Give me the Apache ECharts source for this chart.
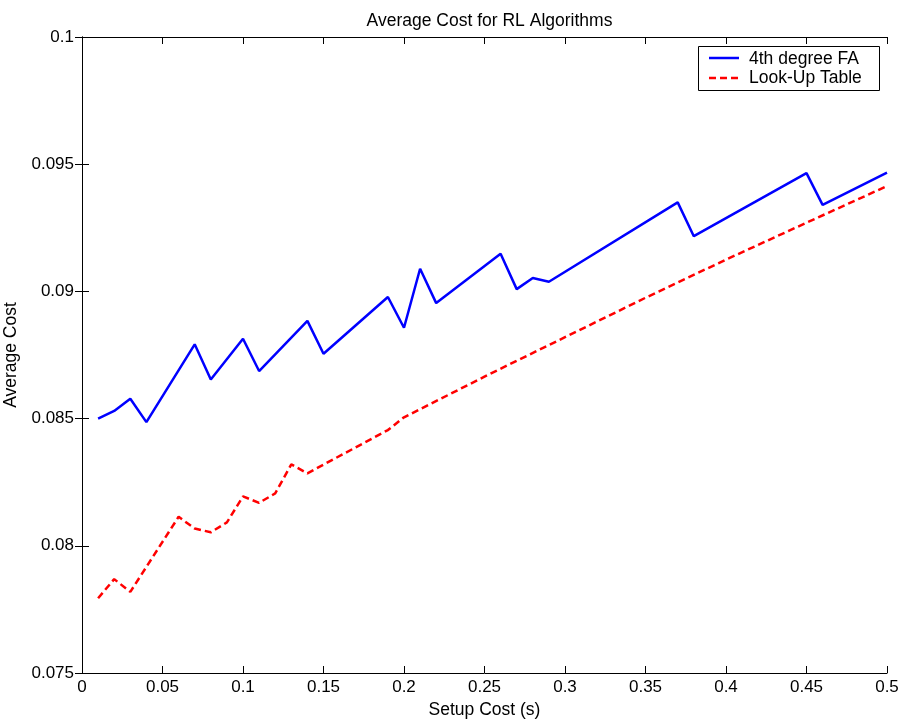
<!DOCTYPE html>
<html>
<head>
<meta charset="utf-8">
<script src="https://cdn.jsdelivr.net/npm/echarts@6/dist/echarts.min.js"></script>
<style>html,body{margin:0;padding:0;background:#fff;}#c{width:904px;height:722px;}</style>
</head>
<body>
<div id="c"></div>
<script>
const titleText = 'Average Cost for RL Algorithms';
const xName = 'Setup Cost (s)';
const yName = 'Average Cost';
const seriesNames = ['4th degree FA', 'Look-Up Table'];

const faX = [0.01,0.02,0.03,0.04,0.07,0.08,0.10,0.11,0.14,0.15,0.19,0.20,0.21,0.22,0.26,0.27,0.28,0.29,0.37,0.38,0.45,0.46,0.50];
const faY = [0.0850,0.0853,0.08578,0.08486,0.08792,0.08654,0.08814,0.08687,0.08884,0.08755,0.08978,0.08857,0.09089,0.08954,0.09148,0.09009,0.09053,0.09038,0.09350,0.09217,0.09465,0.09340,0.09467];

const lutX = [0.01,0.02,0.03,0.06,0.07,0.08,0.09,0.10,0.11,0.12,0.13,0.14,0.19,0.20,0.25,0.30,0.35,0.40,0.45,0.50];
const lutY = [0.07794,0.07869,0.07819,0.08114,0.08068,0.08053,0.08092,0.08194,0.08169,0.08206,0.08320,0.08285,0.08455,0.08505,0.08665,0.0882,0.08975,0.09125,0.0927,0.09414];

const xMin = 0, xMax = 0.5, xStep = 0.05;
const yMin = 0.075, yMax = 0.1, yStep = 0.005;

const colors = ['#0000ff', '#ff0000'];
const zip = (a, b) => a.map((v, i) => [v, b[i]]);
const font = '"Liberation Sans", Arial, Helvetica, sans-serif';
const fmt = v => String(+v.toFixed(4));

const axisLine = {show: true, lineStyle: {color: '#000', width: 1}};
const tick = {show: true, inside: true, length: 7, lineStyle: {color: '#000', width: 1}};

const chart = echarts.init(document.getElementById('c'), null, {renderer: 'canvas'});
chart.setOption({
  backgroundColor: '#fff',
  animation: false,
  textStyle: {fontFamily: font},
  title: {
    text: titleText, left: 484.5, textAlign: 'center', top: 7,
    textStyle: {fontSize: 17.5, fontWeight: 'normal', color: '#000', fontFamily: font}
  },
  grid: {left: 82, right: 17, top: 37, bottom: 49, containLabel: false, outerBoundsMode: 'none'},
  xAxis: [{
    type: 'value', min: xMin, max: xMax, interval: xStep,
    name: xName, nameLocation: 'middle', nameGap: 28,
    nameTextStyle: {fontSize: 17.5, color: '#000', fontFamily: font},
    axisLine, axisTick: tick, splitLine: {show: false},
    axisLabel: {fontSize: 17, color: '#000', margin: 6, formatter: fmt, fontFamily: font}
  }, {
    type: 'value', position: 'top', min: xMin, max: xMax, interval: xStep,
    axisLine, axisTick: tick, splitLine: {show: false}, axisLabel: {show: false}
  }],
  yAxis: [{
    type: 'value', min: yMin, max: yMax, interval: yStep,
    name: yName, nameLocation: 'middle', nameGap: 55, nameRotate: 90,
    nameTextStyle: {fontSize: 17.5, color: '#000', fontFamily: font},
    axisLine, axisTick: tick, splitLine: {show: false},
    axisLabel: {fontSize: 17, color: '#000', margin: 8, formatter: fmt, fontFamily: font}
  }, {
    type: 'value', position: 'right', min: yMin, max: yMax, interval: yStep,
    axisLine, axisTick: tick, splitLine: {show: false}, axisLabel: {show: false}
  }],
  graphic: [
    {type: 'rect', left: 698, top: 46, z: 100,
     shape: {width: 181, height: 44}, style: {fill: '#fff', stroke: '#000', lineWidth: 1}},
    {type: 'line', z: 101, shape: {x1: 709, y1: 58, x2: 739, y2: 58},
     style: {stroke: colors[0], lineWidth: 2.5}},
    {type: 'line', z: 101, shape: {x1: 709, y1: 78, x2: 739, y2: 78},
     style: {stroke: colors[1], lineWidth: 2.5, lineDash: [7, 4]}},
    {type: 'text', z: 101, x: 749, y: 59,
     style: {text: seriesNames[0], fontSize: 17.5, fontFamily: font, fill: '#000', verticalAlign: 'middle', align: 'left'}},
    {type: 'text', z: 101, x: 749, y: 78,
     style: {text: seriesNames[1], fontSize: 17.5, fontFamily: font, fill: '#000', verticalAlign: 'middle', align: 'left'}}
  ],
  series: [{
    name: seriesNames[0], type: 'line', data: zip(faX, faY),
    showSymbol: false, symbol: 'none',
    lineStyle: {color: colors[0], width: 2.5, type: 'solid'},
    itemStyle: {color: colors[0]}
  }, {
    name: seriesNames[1], type: 'line', data: zip(lutX, lutY),
    showSymbol: false, symbol: 'none',
    lineStyle: {color: colors[1], width: 2.5, type: [7, 4]},
    itemStyle: {color: colors[1]}
  }]
});
</script>
</body>
</html>
